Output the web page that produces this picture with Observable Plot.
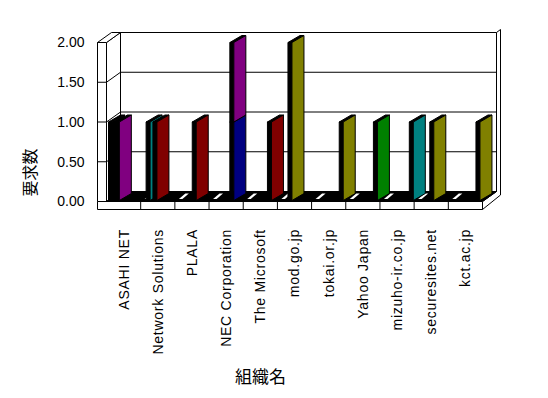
<!DOCTYPE html>
<html><head><meta charset="utf-8">
<script src="https://cdn.jsdelivr.net/npm/d3@7"></script>
<script src="https://cdn.jsdelivr.net/npm/@observablehq/plot@0.6"></script>
<style>body{margin:0;background:#fff}</style>
</head><body><div id="chart"></div>
<script>
// ---- data ----
const categories = ["ASAHI NET","Network Solutions","PLALA","NEC Corporation","The Microsoft","mod.go.jp","tokai.or.jp","Yahoo Japan","mizuho-ir.co.jp","securesites.net","kct.ac.jp"];
const yTicks = [0, 0.5, 1, 1.5, 2];
const yLabel = "要求数";
const xLabel = "組織名";
// one entry per visible column segment
const barCategory = ["ASAHI NET","ASAHI NET","Network Solutions","Network Solutions","PLALA","NEC Corporation","NEC Corporation","The Microsoft","mod.go.jp","tokai.or.jp","Yahoo Japan","mizuho-ir.co.jp","securesites.net","kct.ac.jp"];
const barSlot     = [0,4,2,6,9,11,11,13,5,15,15,16,8,15];   // series slot inside the category (of 20)
const barValue    = [1,1,1,1,1,1,1,1,2,1,1,1,1,1];
const barColor    = ["#000000","#800080","#008080","#800000","#800000","#000080","#800080","#800000","#808000","#808000","#008000","#008080","#808000","#808000"];

// stacked bases for segments sharing category+slot
const bars = barCategory.map((c, i) => ({category: c, slot: barSlot[i], value: barValue[i], color: barColor[i]}));
const acc = new Map();
for (const b of bars) { const k = b.category + "|" + b.slot; const base = acc.get(k) || 0; b.base = base; acc.set(k, base + b.value); }

function chart3d(index, scales) {
  const x = scales.x, y = scales.y;
  const step = x(categories[1]) - x(categories[0]);
  const X0 = x(categories[0]), X1 = x(categories[categories.length - 1]) + step;
  const Y0 = y(0), Y2 = y(2);
  const DX = 14, DY = -10, WALL = 9, PLATE = 8;
  const g = d3.create("svg:g").attr("stroke", "#000").attr("stroke-width", 1).attr("stroke-linejoin", "miter");
  const poly = (pts, fill, stroke = "#000") => g.append("path")
    .attr("d", "M" + pts.map(p => p.join(",")).join("L") + "Z").attr("fill", fill).attr("stroke", stroke);
  const line = (x1, y1, x2, y2) => g.append("line").attr("x1", x1).attr("y1", y1).attr("x2", x2).attr("y2", y2);
  const inner = yTicks.filter(t => t > 0 && t < 2);

  // back wall
  poly([[X0 + DX, Y2 + DY], [X1 + DX, Y2 + DY], [X1 + DX, Y0 + DY], [X0 + DX, Y0 + DY]], "#fff");
  for (const t of inner) line(X0 + DX, y(t) + DY, X1 + DX, y(t) + DY);
  // left side wall
  poly([[X0, Y2], [X0 + DX, Y2 + DY], [X0 + DX, Y0 + DY], [X0, Y0]], "#fff");
  for (const t of inner) line(X0, y(t), X0 + DX, y(t) + DY);
  // right edge (wall thickness + floor side)
  poly([[X1, Y0], [X1, Y0 + PLATE], [X1 + DX + 4, Y0 + PLATE + DY - 4.5], [X1 + DX + 4, Y2 + DY - 3], [X1 + DX, Y2 + DY], [X1 + DX, Y0 + DY]], "#fff");
  // floor (dark)
  poly([[X0, Y0], [X1, Y0], [X1 + DX, Y0 + DY], [X0 + DX, Y0 + DY]], "#000");
  // light streaks on the floor, one per category
  for (const c of categories) {
    const s = x(c);
    poly([[s + 4, Y0 - 2.5], [s + 7.5, Y0 - 2.5], [s + 14, Y0 - 8], [s + 10.5, Y0 - 8]], "#fff", "none");
  }
  // left wall front face + top
  poly([[X0 - WALL, Y2], [X0, Y2], [X0, Y0], [X0 - WALL, Y0]], "#fff");
  for (const t of inner) line(X0 - WALL, y(t), X0, y(t));
  poly([[X0 - WALL, Y2], [X0, Y2], [X0 + DX, Y2 + DY], [X0 + DX - WALL, Y2 + DY]], "#fff");
  // floor plate front
  poly([[X0 - WALL, Y0], [X1, Y0], [X1, Y0 + PLATE], [X0 - WALL, Y0 + PLATE]], "#fff");
  for (let i = 1; i < categories.length; i++) { const s = x(categories[i]); line(s, Y0, s, Y0 + PLATE); }

  // columns
  const FW = 4, SW = 12, SR = 7;
  const sorted = bars.map(b => ({...b, f: x(b.category) + 2 + b.slot * step / 20}))
    .sort((a, b) => a.f - b.f || a.base - b.base);
  for (const b of sorted) {
    const yt = y(b.base + b.value);
    const yb = b.base === 0 ? Y0 - 1 : y(b.base);
    const f = b.f;
    poly([[f, yt], [f + FW, yt], [f + FW, yb], [f, yb]], "#000");
    poly([[f, yt], [f + FW, yt], [f + FW + SW, yt - SR], [f + SW, yt - SR]], "#000");
    poly([[f + FW, yt], [f + FW + SW, yt - SR], [f + FW + SW, yb - SR], [f + FW, yb]], b.color);
  }
  return g.node();
}

const plot = Plot.plot({
  width: 548, height: 398,
  marginLeft: 97, marginRight: 65, marginTop: 42.5, marginBottom: 196.5,
  style: {background: "#fff", fontFamily: "'Liberation Sans', Arial, sans-serif", fontSize: "14px", color: "#000"},
  x: {type: "band", domain: categories, range: [106.5, 482.5], padding: 0, round: false},
  y: {domain: [0, 2], range: [201.5, 42.5]},
  marks: [
    chart3d,
    Plot.axisY(yTicks, {tickSize: 0, tickPadding: 13, tickFormat: d3.format(".2f"), label: null, fontSize: 14}),
    Plot.axisX(categories, {tickRotate: -90, tickSize: 0, tickPadding: 27, label: null, fontSize: 14}),
    Plot.text([yLabel], {frameAnchor: "top-left", dx: -67, dy: 129.5, rotate: -90, textAnchor: "middle", lineAnchor: "middle", fontSize: 16, fontFamily: "'Noto Sans CJK JP', sans-serif"}),
    Plot.text([xLabel], {frameAnchor: "bottom-left", dx: 163, dy: 175.5, textAnchor: "middle", lineAnchor: "middle", fontSize: 17, fontFamily: "'Noto Sans CJK JP', sans-serif"})
  ]
});
plot.querySelectorAll('g[aria-label="x-axis tick label"] text').forEach(t => t.setAttribute("letter-spacing", "0.75"));
document.getElementById("chart").appendChild(plot);
</script>
</body></html>
